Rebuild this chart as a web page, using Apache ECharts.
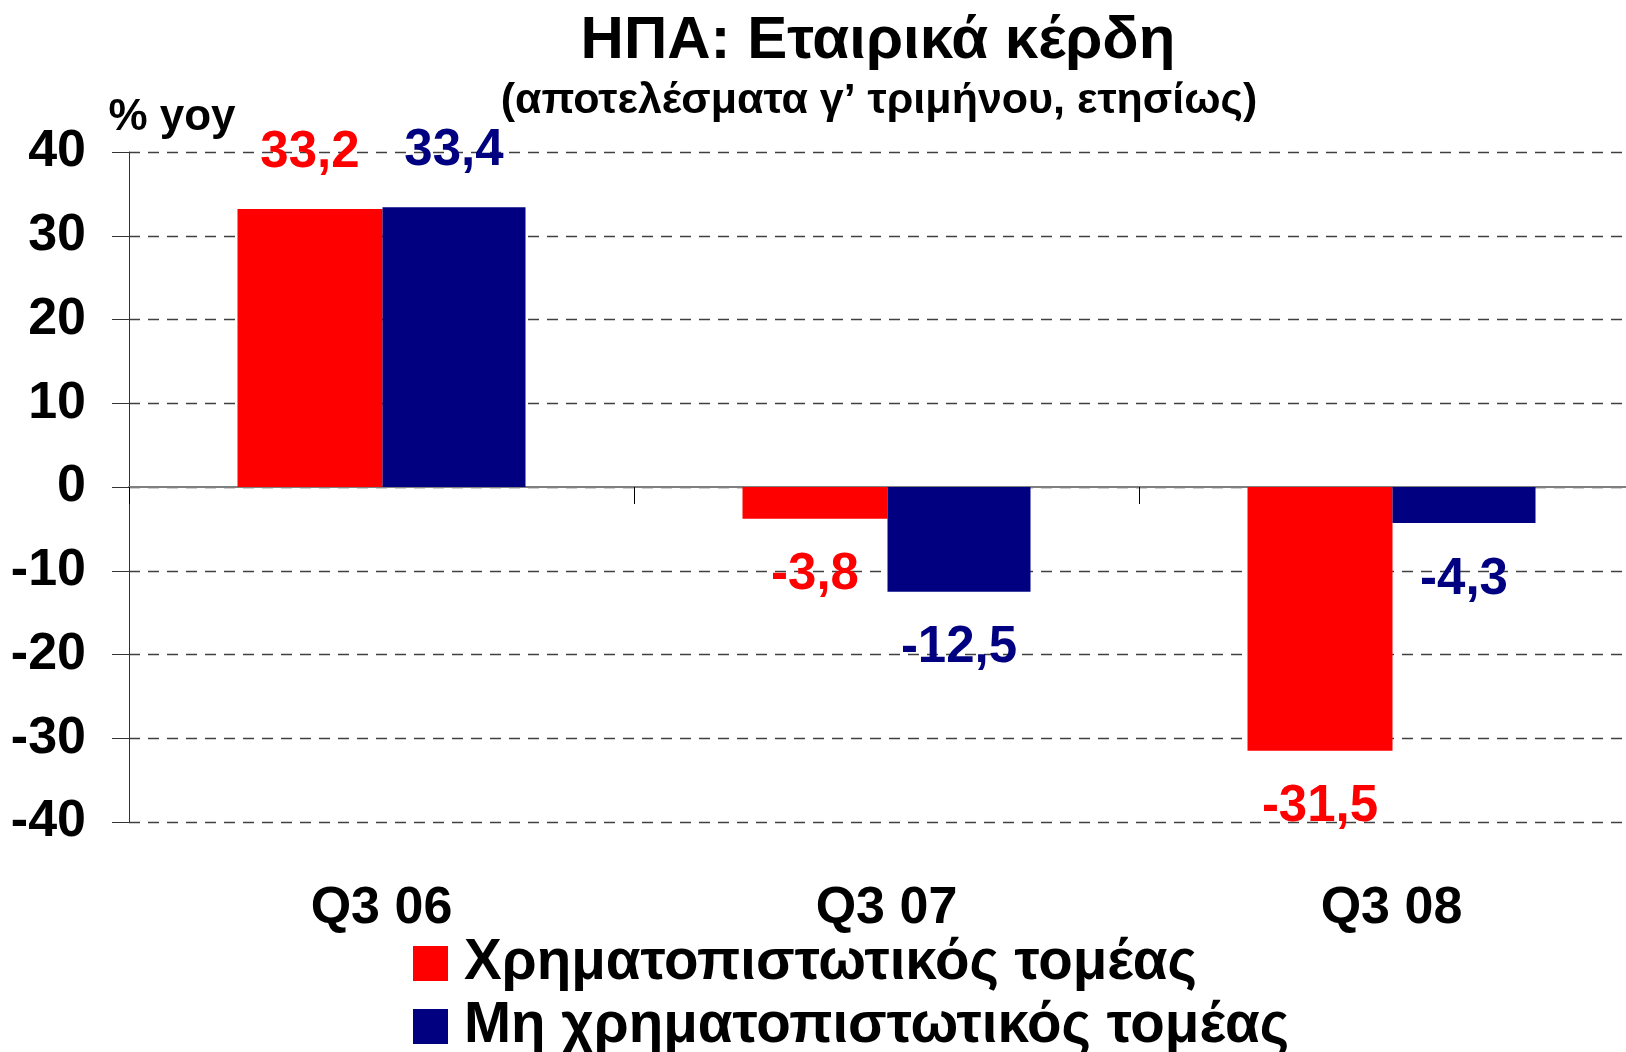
<!DOCTYPE html>
<html>
<head>
<meta charset="utf-8">
<title>ΗΠΑ: Εταιρικά κέρδη</title>
<script src="https://cdn.jsdelivr.net/npm/echarts@6/dist/echarts.min.js"></script>
<style>
  html, body { margin: 0; padding: 0; background: #fff; }
  #chart { width: 1626px; height: 1052px; }
</style>
</head>
<body>
<div id="chart"></div>
<script>
// data
const categories = ['Q3 06', 'Q3 07', 'Q3 08'];
const financial = [33.2, -3.8, -31.5];
const nonFinancial = [33.4, -12.5, -4.3];
const seriesNames = ['Χρηματοπιστωτικός τομέας', 'Μη χρηματοπιστωτικός τομέας'];

const FONT = "'Liberation Sans', Arial, sans-serif";
const RED = '#ff0000';
const NAVY = '#000080';

// 33.2 -> "33,2"
const fmt = (p) => p.value.toFixed(1).replace('.', ',');

const barLabel = (color) => ({
  show: true,
  position: 'outside',
  distance: 31,
  formatter: fmt,
  fontFamily: FONT, fontWeight: 'bold', fontSize: 51, color: color
});

const chart = echarts.init(document.getElementById('chart'));

chart.setOption({
  backgroundColor: '#fff',
  animation: false,
  title: [
    {
      text: 'ΗΠΑ: Εταιρικά κέρδη',
      left: 878,
      textAlign: 'center',
      top: 11,
      padding: 0,
      textStyle: { fontFamily: FONT, fontWeight: 'bold', fontSize: 60, color: '#000' }
    },
    {
      text: '(αποτελέσματα γ’ τριμήνου, ετησίως)',
      left: 879,
      textAlign: 'center',
      top: 80,
      padding: 0,
      textStyle: { fontFamily: FONT, fontWeight: 'bold', fontSize: 43, color: '#000' }
    }
  ],
  legend: {
    orient: 'vertical',
    left: 413,
    top: 935,
    height: 200,
    padding: 0,
    itemWidth: 35,
    itemHeight: 35,
    itemGap: 6,
    icon: 'rect',
    selectedMode: false,
    textStyle: { fontFamily: FONT, fontWeight: 'bold', fontSize: 56.5, color: '#000', padding: [0, 0, 0, 11] },
    data: seriesNames
  },
  // the plot runs a little past the right edge of the picture
  grid: { left: 129, top: 152, bottom: 230, width: 1515, outerBoundsMode: 'none', containLabel: false },
  xAxis: [
    {
      type: 'category',
      data: categories,
      axisLine: { onZero: true, lineStyle: { color: '#808080', width: 2 } },
      axisTick: { show: true, length: 17, lineStyle: { color: '#000', width: 1 } },
      axisLabel: { show: false },
      splitLine: { show: false }
    },
    {
      type: 'category',
      data: categories,
      position: 'bottom',
      axisLine: { show: false, onZero: false },
      axisTick: { show: false },
      splitLine: { show: false },
      axisLabel: {
        margin: 61,
        fontFamily: FONT, fontWeight: 'bold', fontSize: 52, color: '#000'
      }
    }
  ],
  yAxis: {
    type: 'value',
    min: -40,
    max: 40,
    interval: 10,
    name: '% yoy',
    nameLocation: 'end',
    nameGap: 12,
    nameTextStyle: {
      fontFamily: FONT, fontWeight: 'bold', fontSize: 44, color: '#000',
      padding: [0, 0, 0, 86]
    },
    axisLine: { show: true, lineStyle: { color: '#333', width: 1 } },
    axisTick: { show: true, length: 17, lineStyle: { color: '#333', width: 1 } },
    axisLabel: {
      margin: 43,
      fontFamily: FONT, fontWeight: 'bold', fontSize: 52, color: '#000'
    },
    splitLine: {
      show: true,
      lineStyle: { color: '#404040', width: 1.3, type: [11, 8] }
    }
  },
  series: [
    {
      name: seriesNames[0],
      type: 'bar',
      xAxisIndex: 0,
      data: financial,
      barWidth: 145,
      barGap: '0%',
      itemStyle: { color: RED },
      label: barLabel(RED)
    },
    {
      name: seriesNames[1],
      type: 'bar',
      xAxisIndex: 0,
      data: nonFinancial,
      barWidth: 143,
      barGap: '0%',
      itemStyle: { color: NAVY },
      label: barLabel(NAVY)
    }
  ]
});
</script>
</body>
</html>
